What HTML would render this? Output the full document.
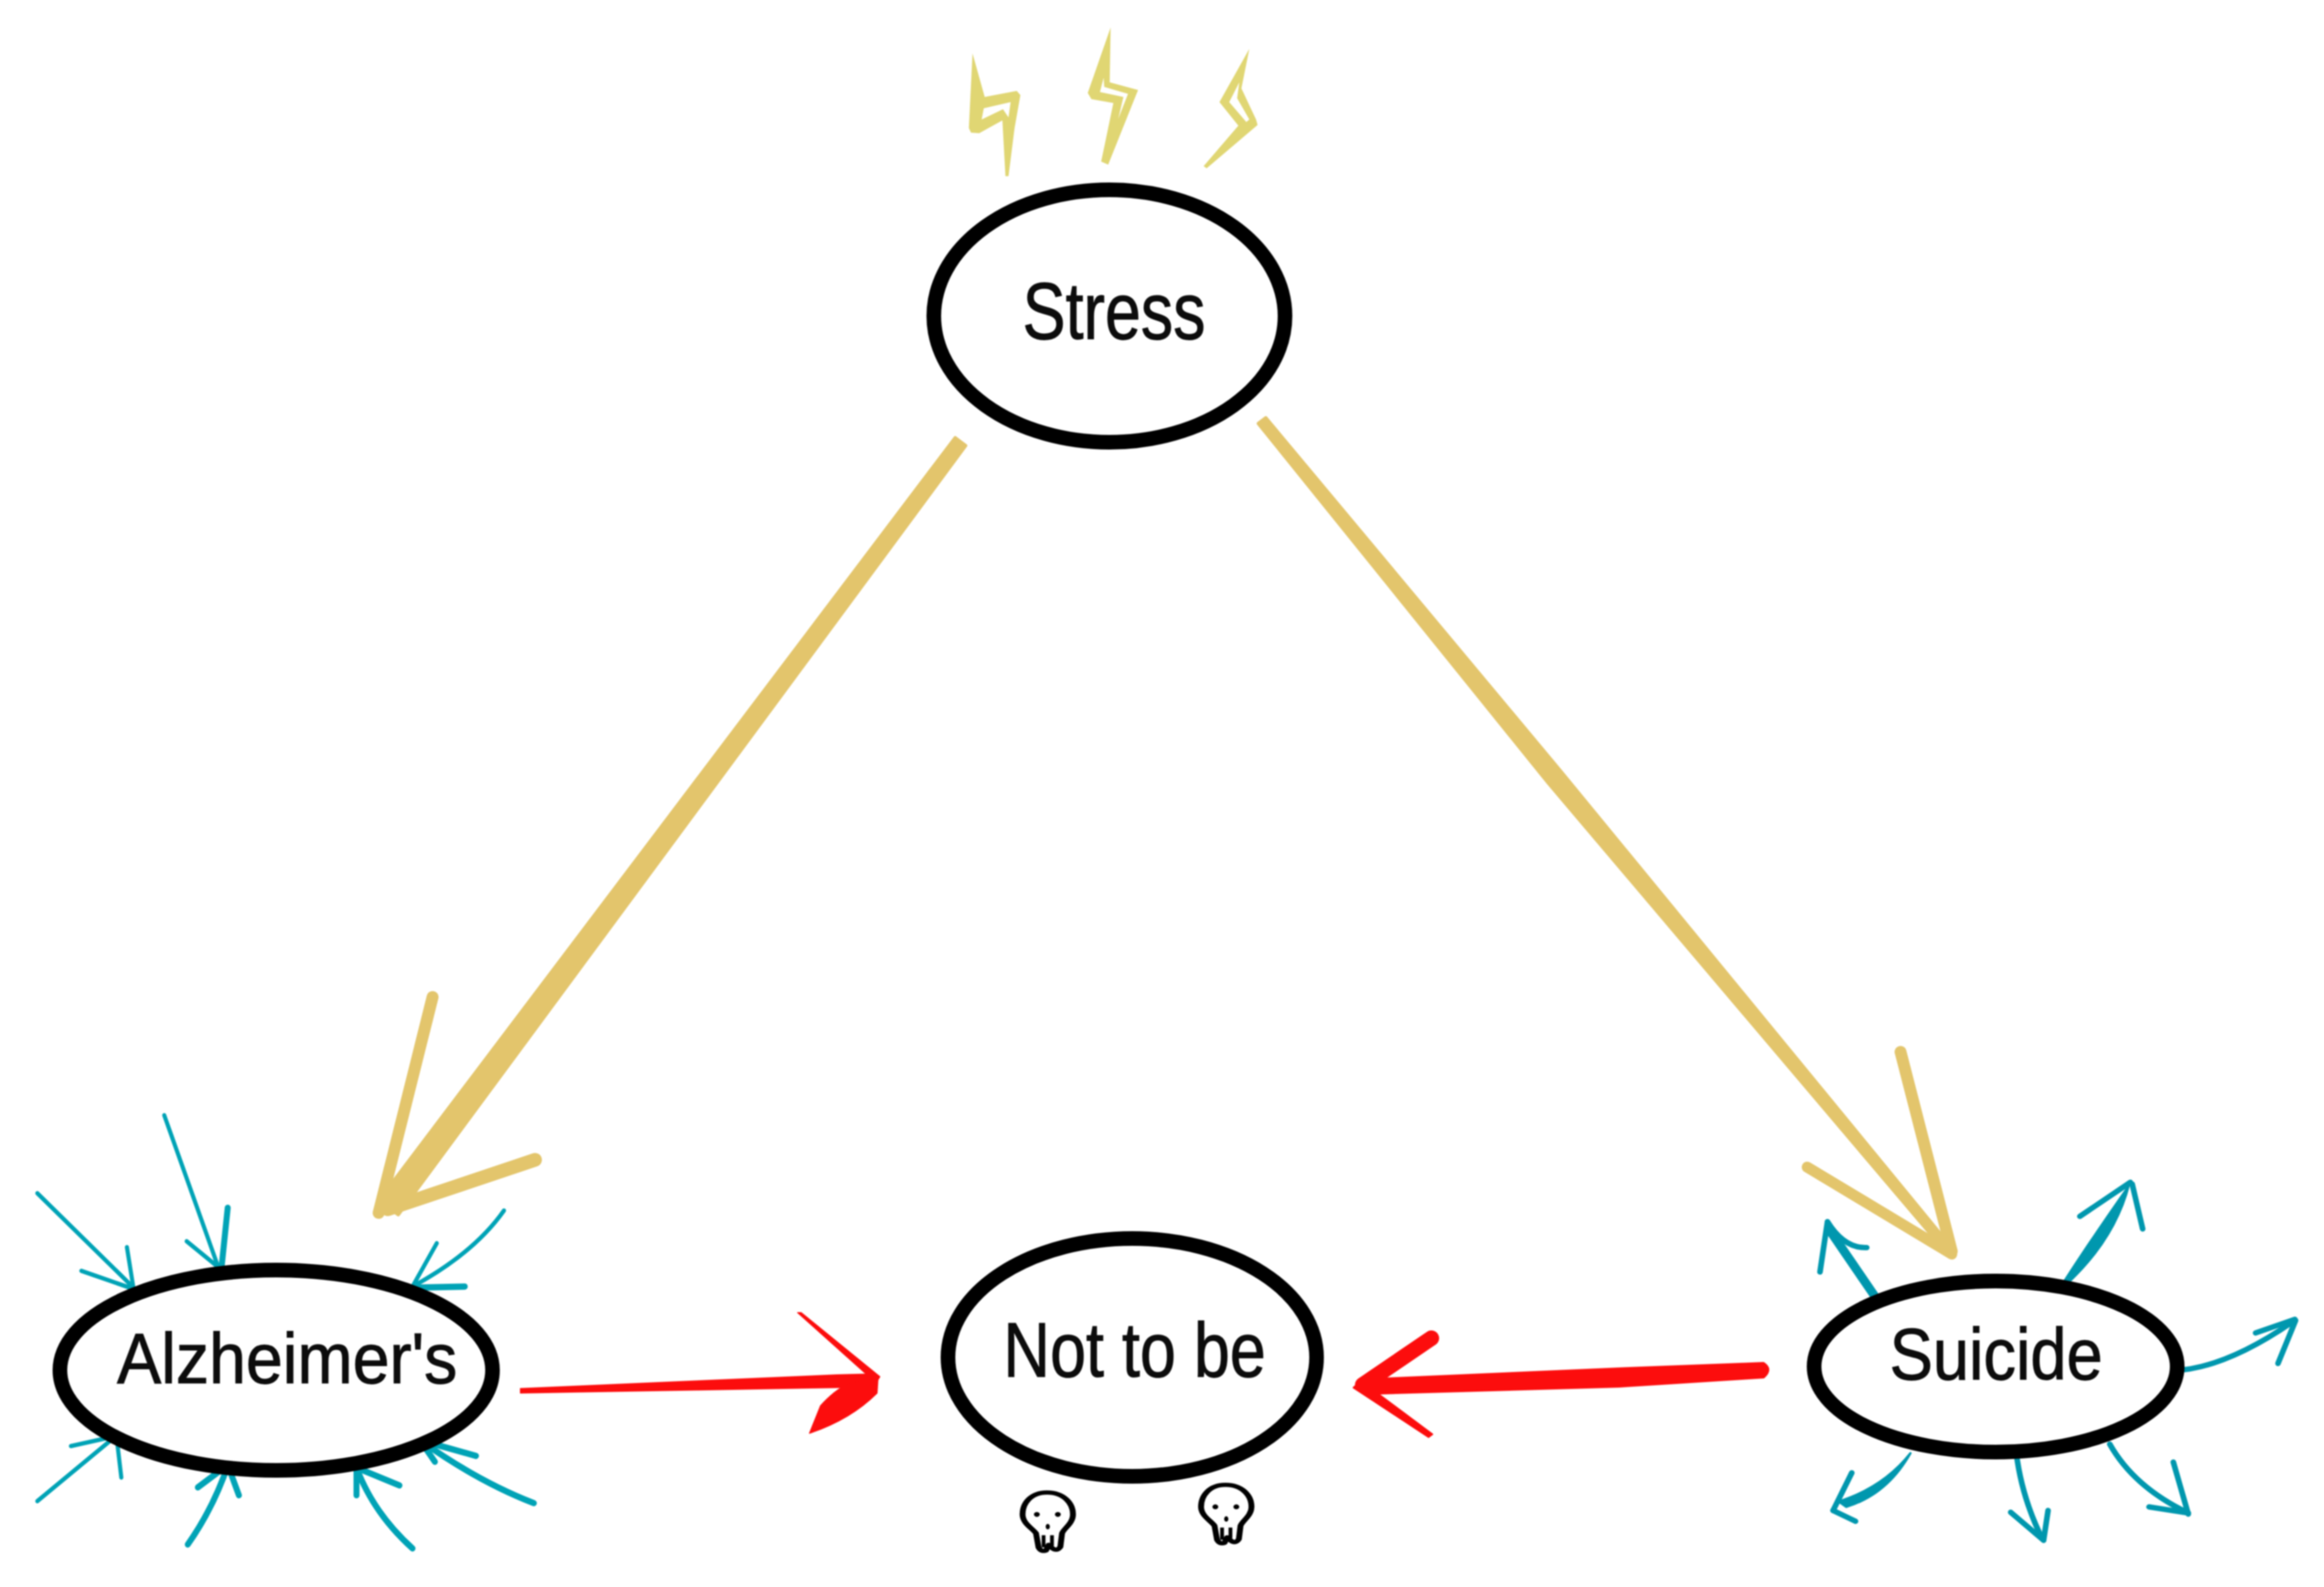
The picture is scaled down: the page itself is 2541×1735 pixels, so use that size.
<!DOCTYPE html>
<html><head><meta charset="utf-8"><title>Stress diagram</title>
<style>html,body{margin:0;padding:0;background:#fff;width:2541px;height:1735px;overflow:hidden}svg{display:block;filter:blur(.8px)}text{font-family:"Liberation Sans",sans-serif;fill:#0c0c0c;stroke:#0c0c0c;stroke-width:1px}</style></head>
<body>
<svg xmlns="http://www.w3.org/2000/svg" width="2541" height="1735" viewBox="0 0 2541 1735">
<rect width="2541" height="1735" fill="#fff"/>

<!-- bolts -->
<g transform="translate(980,0) scale(.33333)" fill="#e0d673" fill-rule="evenodd">
<path d="M250,175 L290,318 L395,298 L407,312 L388,420 L368,578 L358,578 L348,395 L272,437 L245,435 L238,420 Z M287,355 L280,392 L350,358 L368,385 L375,335 Z"/>
<path d="M703,90 L628,305 L640,325 L712,338 L672,530 L695,540 L793,295 L700,270 Z M680,255 L668,302 L745,318 L728,390 L760,308 L682,285 Z"/>
<path d="M1158,160 L1060,335 L1122,412 L1008,545 L1018,552 L1185,410 L1180,392 L1132,290 Z M1125,270 L1092,335 L1148,400 L1158,392 L1118,322 Z"/>
</g>

<!-- yellow connectors -->
<g fill="#e3c56c" stroke="#e3c56c" stroke-linejoin="round" stroke-linecap="round">
<path stroke-width="4" d="M1055.6,487.2 L1044.4,478.8 L414.6,1312.2 L435.4,1327.8 Z"/>
<path stroke-width="13" fill="none" d="M473,1090 L414,1326"/>
<path stroke-width="15" fill="none" d="M585,1268 L424,1322"/>
<path stroke-width="4" d="M1384,457 L1707,844 L2133,1363 L2127,1368 L1693,856 L1376,463 Z"/>
<path stroke-width="13" fill="none" d="M2078,1150 L2134,1368"/>
<path stroke-width="12" fill="none" d="M1976,1276 L2134,1371"/>
</g>

<!-- red connectors -->
<g fill="#fc0d0d" stroke="#fc0d0d" stroke-linejoin="round" stroke-linecap="round">
<path stroke-width="1" d="M569,1518 L915,1503 L955,1502 L955,1516 L915,1517 L569,1523 Z"/>
<path stroke-width="1" d="M872,1435 L876,1435 L962,1505 L958,1512 Z"/>
<path stroke-width="1" d="M960,1507 L959,1523 Q930,1552 885,1567 L897,1537 Q912,1520 929,1512 Z"/>
<path stroke-width="4" d="M1492,1509 L1770,1497 L1928,1491 Q1937,1497 1928,1505 L1770,1515 L1492,1523 Z"/>
<path stroke-width="17" fill="none" d="M1565,1463 L1490,1514"/>
<path stroke-width="2" d="M1480,1517 L1488,1510 L1566,1568 L1562,1571 Z"/>
</g>

<!-- teal arrows around Alzheimer's -->
<g transform="translate(0,1060) scale(.40816,.43048)" fill="none" stroke="#00a3b6" stroke-linecap="round" stroke-linejoin="round">
<g stroke-width="11">
<path d="M100,568 L360,810"/><path d="M440,370 L590,770"/><path d="M1350,612 Q1270,720 1105,805"/>
<path d="M100,1350 L310,1185"/>
<path d="M340,705 L358,812"/><path d="M218,765 L360,812"/><path d="M500,690 L590,760"/>
<path d="M1170,695 L1105,805"/><path d="M190,1210 L310,1185"/><path d="M325,1290 L312,1185"/>
</g>
<g stroke-width="16">
<path d="M610,605 L592,770"/><path d="M1245,805 L1105,808"/>
<path d="M503,1460 Q570,1370 610,1260"/><path d="M530,1315 L610,1258"/><path d="M640,1335 L610,1258"/>
<path d="M1105,1470 Q1000,1380 955,1265"/><path d="M1070,1310 L955,1265"/><path d="M955,1335 L955,1265"/>
<path d="M1430,1355 Q1280,1300 1125,1195"/><path d="M1275,1235 L1125,1195"/><path d="M1165,1250 L1125,1195"/>
</g>
</g>

<!-- teal arrows around Suicide -->
<g transform="translate(1900,1120) scale(.40880,.39216)" fill="none" stroke="#0097ae" stroke-linecap="round" stroke-linejoin="round">
<g stroke-width="15">
<path d="M220,690 L240,550"/><path d="M345,622 Q285,625 240,550"/>
<path d="M915,535 L1050,440"/><path d="M1083,570 L1055,445"/>
<path d="M1385,860 L1490,822"/><path d="M1445,945 L1492,825"/>
<path d="M305,1250 L255,1355"/><path d="M315,1385 L255,1355"/>
<path d="M745,1195 Q760,1320 815,1435"/><path d="M730,1360 L818,1438"/><path d="M830,1355 L818,1438"/>
<path d="M995,1170 Q1060,1290 1205,1362"/><path d="M1165,1220 L1205,1365"/><path d="M1100,1345 L1205,1362"/>
</g>
<path stroke-width="24" d="M378,775 L250,580"/>
<path stroke-width="4" fill="#0097ae" d="M850,752 Q930,620 1048,445 Q1010,600 880,725 Z"/>
<path stroke-width="15" d="M1165,965 Q1300,960 1480,832"/>
<path stroke-width="6" fill="#0097ae" d="M462,1195 Q400,1310 290,1345 L270,1330 Q390,1290 462,1195 Z"/>
</g>

<!-- nodes -->
<g fill="#fff" stroke="#000" stroke-width="16">
<ellipse cx="1213" cy="345.5" rx="192" ry="138"/>
<ellipse cx="302" cy="1498" rx="236.5" ry="109.5"/>
<ellipse cx="2182" cy="1494" rx="198.5" ry="93.5"/>
<ellipse cx="1238" cy="1484" rx="201.5" ry="130"/>
</g>

<text x="1118" y="370.5" font-size="88" textLength="200" lengthAdjust="spacingAndGlyphs">Stress</text>
<text x="128" y="1512" font-size="78" textLength="372" lengthAdjust="spacingAndGlyphs">Alzheimer's</text>
<text x="2066" y="1508" font-size="80" textLength="233" lengthAdjust="spacingAndGlyphs">Suicide</text>
<text x="1097" y="1505" font-size="84" textLength="287" lengthAdjust="spacingAndGlyphs">Not to be</text>

<!-- skulls -->
<g transform="translate(860,1320) scale(.45918,.33333)">
<g transform="translate(560,935)" fill="none" stroke="#000" stroke-width="14" stroke-linejoin="round">
<path d="M60,0 C100,0 122,35 122,72 C122,102 100,118 96,134 L92,178 Q84,195 72,182 L64,172 L58,190 Q46,196 40,180 L34,134 C26,118 2,102 2,72 C2,35 22,0 60,0 Z"/>
<path d="M52,140 L52,180 M72,140 L72,175" stroke-width="9"/>
<ellipse cx="36" cy="72" rx="7" ry="8" fill="#000" stroke="none"/>
<ellipse cx="86" cy="72" rx="7" ry="8" fill="#000" stroke="none"/>
<ellipse cx="62" cy="112" rx="5" ry="9" fill="#000" stroke="none"/>
</g>
<g transform="translate(985,910)" fill="none" stroke="#000" stroke-width="14" stroke-linejoin="round">
<path d="M60,0 C100,0 122,35 122,72 C122,102 100,118 96,134 L92,178 Q84,195 72,182 L64,172 L58,190 Q46,196 40,180 L34,134 C26,118 2,102 2,72 C2,35 22,0 60,0 Z"/>
<path d="M52,140 L52,180 M72,140 L72,175" stroke-width="9"/>
<ellipse cx="36" cy="72" rx="7" ry="8" fill="#000" stroke="none"/>
<ellipse cx="86" cy="72" rx="7" ry="8" fill="#000" stroke="none"/>
<ellipse cx="62" cy="112" rx="5" ry="9" fill="#000" stroke="none"/>
</g>
</g>
</svg>
</body></html>
